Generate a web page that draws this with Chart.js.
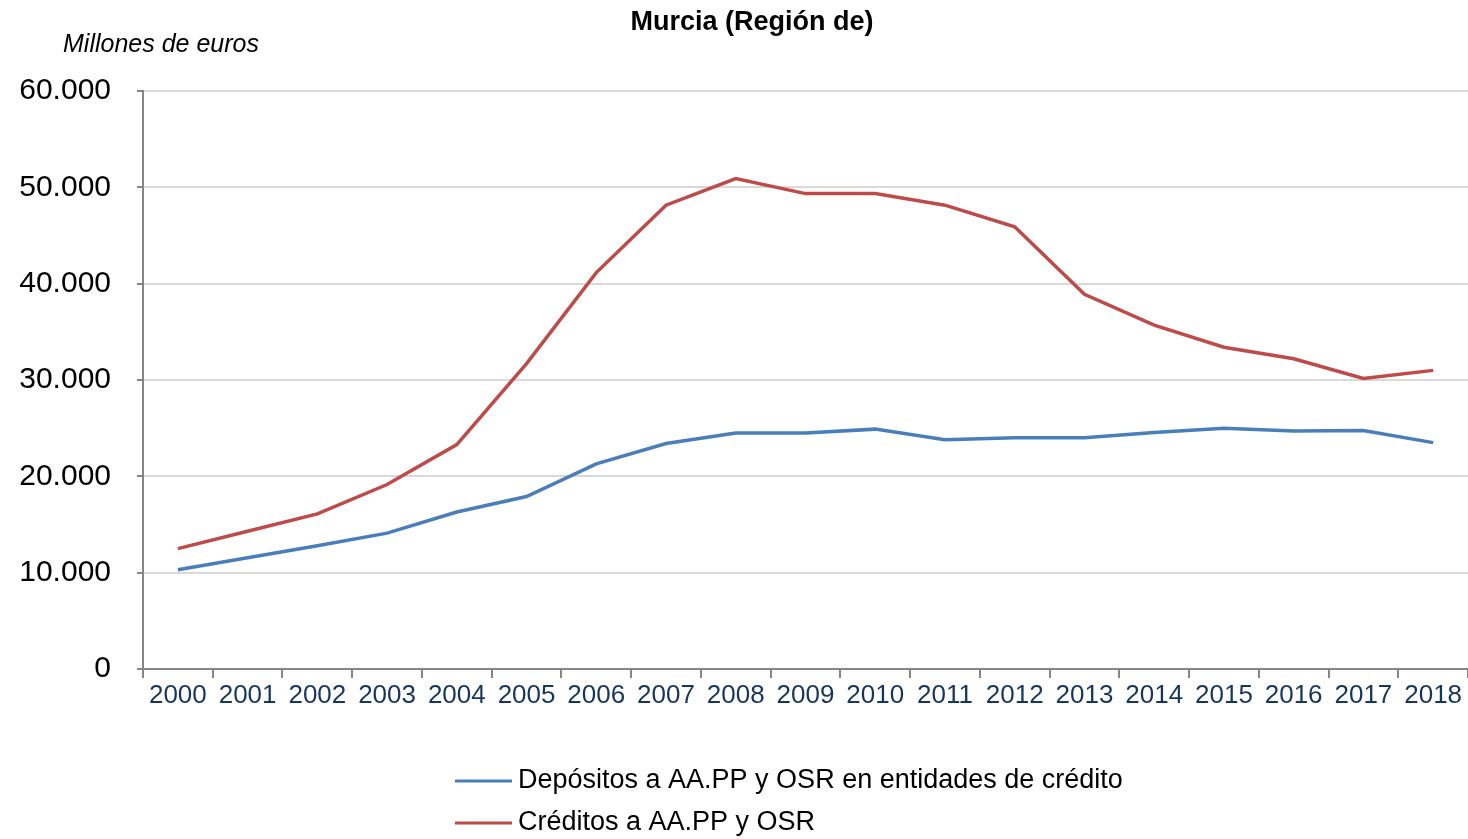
<!DOCTYPE html>
<html>
<head>
<meta charset="utf-8">
<script src="https://cdn.jsdelivr.net/npm/chart.js@4/dist/chart.umd.min.js"></script>
<style>
    body { margin: 0; background: #fff; }
    #wrap { width: 1468px; height: 839px; }
</style>
</head>
<body>
<div id="wrap"><canvas id="grafico" width="1468" height="839"></canvas></div>
<script>
// ===================== DATOS =====================
const anios = ["2000", "2001", "2002", "2003", "2004", "2005", "2006", "2007", "2008", "2009",
               "2010", "2011", "2012", "2013", "2014", "2015", "2016", "2017", "2018"];
const depositos = [10300, 11550, 12800, 14100, 16300, 17900, 21300, 23400, 24500, 24500,
                   24900, 23800, 24000, 24000, 24550, 25000, 24700, 24750, 23500];
const creditos = [12500, 14300, 16100, 19150, 23300, 31700, 41150, 48150, 50900, 49350,
                  49350, 48150, 45900, 38900, 35700, 33400, 32200, 30150, 31000];
const etiquetas = ["Depósitos a AA.PP y OSR en entidades de crédito", "Créditos a AA.PP y OSR"];
const colores = ["#4A7EBB", "#BE4B48"];
const titulo = "Murcia (Región de)";
const unidad = "Millones de euros";

function miles(v) {
    return String(v).replace(/\B(?=(\d{3})+(?!\d))/g, ".");
}

// textos y leyenda dibujados a mano
const textos = {
    id: "textos",
    afterDraw(chart) {
        const ctx = chart.ctx;
        ctx.save();
        ctx.fillStyle = "#000";
        ctx.textBaseline = "middle";
        ctx.font = "bold 27px 'Liberation Sans', Arial, sans-serif";
        ctx.textAlign = "center";
        ctx.fillText(titulo, 752, 23);
        ctx.font = "italic 25px 'Liberation Sans', Arial, sans-serif";
        ctx.textAlign = "left";
        ctx.fillText(unidad, 63, 45);

        // leyenda vertical
        ctx.font = "27px 'Liberation Sans', Arial, sans-serif";
        chart.data.datasets.forEach((ds, i) => {
            const y = 781 + i * 42;
            ctx.strokeStyle = ds.borderColor;
            ctx.lineWidth = 3;
            ctx.beginPath();
            ctx.moveTo(455, y);
            ctx.lineTo(512, y);
            ctx.stroke();
            ctx.fillStyle = "#000";
            ctx.fillText(ds.label, 518, y);
        });
        ctx.restore();
    }
};

const ctx = document.getElementById("grafico").getContext("2d");
new Chart(ctx, {
    type: "line",
    data: {
        labels: anios,
        datasets: [
            { label: etiquetas[0], data: depositos, borderColor: colores[0], backgroundColor: colores[0],
              borderWidth: 3.5, pointRadius: 0, tension: 0 },
            { label: etiquetas[1], data: creditos, borderColor: colores[1], backgroundColor: colores[1],
              borderWidth: 3.5, pointRadius: 0, tension: 0 }
        ]
    },
    options: {
        responsive: false,
        animation: false,
        devicePixelRatio: 1,
        layout: { padding: { top: 91, right: 0, bottom: 110, left: 0 } },
        plugins: {
            legend: { display: false },
            title: { display: false },
            tooltip: { enabled: false }
        },
        scales: {
            x: {
                offset: true,
                grid: { offset: true, drawOnChartArea: false, tickLength: 9, color: "#868686", lineWidth: 2 },
                border: { color: "#868686", width: 2 },
                ticks: { color: "#17365D", font: { family: "'Liberation Sans', Arial, sans-serif", size: 26 },
                          padding: 2, maxRotation: 0, autoSkip: false },
                afterFit(s) { s.height = 60; }
            },
            y: {
                min: 0, max: 60000,
                ticks: { stepSize: 10000, color: "#000", padding: 26,
                         font: { family: "'Liberation Sans', Arial, sans-serif", size: 30 },
                         callback: v => miles(v) },
                grid: { color: "#d9d9d9", lineWidth: 2, tickLength: 6, tickColor: "#868686" },
                border: { color: "#868686", width: 2 },
                afterFit(s) { s.width = 143; }
            }
        }
    },
    plugins: [textos]
});
</script>
</body>
</html>
